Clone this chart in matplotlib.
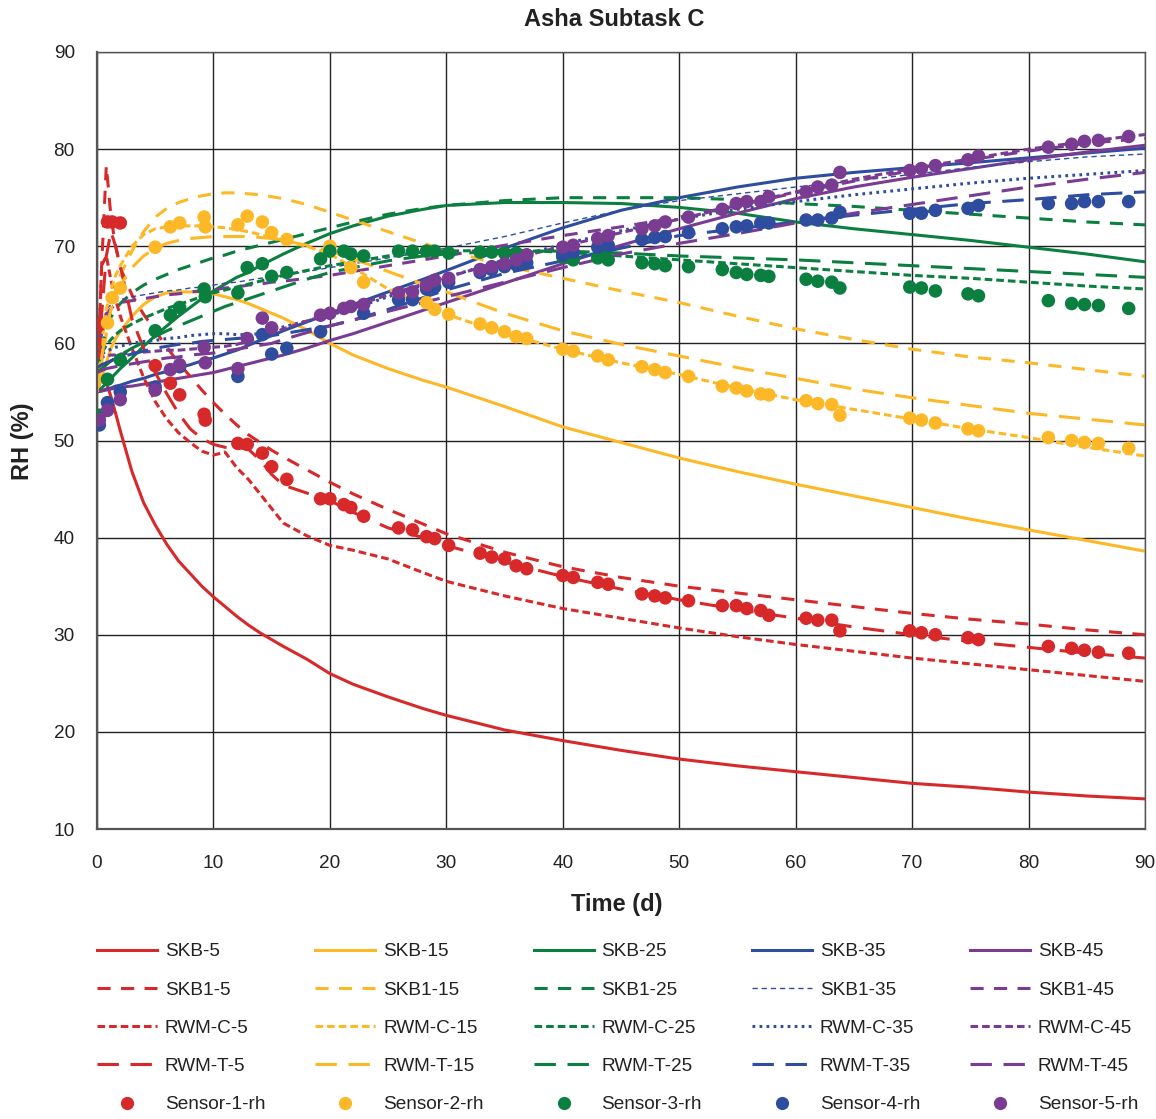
import matplotlib
matplotlib.use("Agg")
import numpy as np
import matplotlib.pyplot as plt
from matplotlib.lines import Line2D

plt.rcParams['font.family'] = ['Liberation Sans', 'DejaVu Sans']

# model output time grid (days)
t_model = [0, 0.4, 0.8, 1.2, 1.6, 2, 3, 4, 5, 6, 7, 8, 9, 10, 11, 12, 13, 14, 15, 16,
           18, 20, 22, 25, 28, 30, 35, 40, 45, 50, 55, 60, 65, 70, 75, 80, 85, 90]

skb_5 = [55, 56.5, 56, 54.5, 52.8, 51, 46.8, 43.6, 41.3, 39.3, 37.6, 36.3, 35.0, 33.9, 32.9, 31.9, 31.0, 30.2, 29.5, 28.8,
         27.5, 26.0, 24.9, 23.6, 22.4, 21.7, 20.2, 19.1, 18.1, 17.2, 16.5, 15.9, 15.3, 14.7, 14.3, 13.8, 13.4, 13.1]
skb1_5 = [55, 68, 78.3, 73, 70, 67.8, 65, 63, 61.3, 59.6, 58, 56.6, 55.2, 53.9, 52.7, 51.6, 50.6, 49.8, 49.0, 48.3,
          47.0, 45.7, 44.5, 42.9, 41.4, 40.4, 38.5, 37.0, 35.9, 35.0, 34.3, 33.6, 32.9, 32.2, 31.6, 31.1, 30.5, 30.0]
rwm_c_5 = [55, 68, 69, 66.5, 64.5, 62.8, 59.5, 56.5, 54.0, 52.2, 50.8, 49.8, 48.9, 48.5, 48.8, 47.2, 46.0, 44.5, 43.0, 41.5,
           40.2, 39.2, 38.7, 37.8, 36.4, 35.5, 34.0, 32.7, 31.7, 30.7, 29.8, 29.0, 28.3, 27.6, 27.0, 26.4, 25.8, 25.2]
rwm_t_5 = [55, 63, 69, 71.5, 70, 68, 62.5, 59.5, 57.0, 54.8, 52.8, 51.2, 50.2, 49.6, 49.3, 49.3, 49.1, 48.0, 46.5, 45.4,
           44.6, 43.8, 42.6, 41.0, 40.0, 39.2, 37.5, 36.0, 34.7, 33.6, 32.6, 31.7, 30.8, 30.0, 29.3, 28.7, 28.1, 27.6]

skb_15 = [55, 56.5, 58, 59.5, 60.5, 61.2, 62.8, 64.0, 64.8, 65.2, 65.3, 65.3, 65.3, 65.1, 64.8, 64.5, 64.1, 63.6, 63.1, 62.6,
          61.4, 60.0, 58.8, 57.4, 56.2, 55.5, 53.5, 51.4, 49.8, 48.2, 46.8, 45.5, 44.3, 43.1, 41.9, 40.8, 39.7, 38.6]
skb1_15 = [55, 58, 61, 63.5, 65.5, 67, 69.5, 71.5, 73.0, 73.9, 74.5, 74.9, 75.2, 75.4, 75.5, 75.5, 75.4, 75.3, 75.1, 74.9,
           74.3, 73.5, 72.7, 71.5, 70.3, 69.6, 68.0, 66.7, 65.4, 64.2, 62.8, 61.5, 60.4, 59.4, 58.6, 58.0, 57.3, 56.6]
rwm_c_15 = [55, 60, 63.5, 65.5, 67, 68, 70, 71.2, 71.8, 72.0, 72.1, 72.1, 72.1, 72.0, 71.9, 71.7, 71.5, 71.2, 70.9, 70.6,
            70.0, 69.2, 67.8, 65.6, 64.0, 63.0, 61.0, 59.4, 58.0, 56.8, 55.4, 54.2, 53.2, 52.2, 51.2, 50.3, 49.3, 48.4]
rwm_t_15 = [55, 58.5, 61.5, 63.5, 65, 66, 67.8, 69.0, 69.8, 70.3, 70.6, 70.8, 70.9, 71.0, 71.0, 71.0, 71.0, 70.9, 70.8, 70.6,
            70.1, 69.5, 68.7, 67.4, 66.1, 65.3, 63.1, 61.3, 59.9, 58.7, 57.5, 56.4, 55.3, 54.4, 53.6, 52.8, 52.2, 51.6]

skb_25 = [55, 55.4, 55.9, 56.4, 56.9, 57.4, 58.5, 59.7, 60.8, 61.8, 62.8, 63.7, 64.6, 65.4, 66.1, 66.8, 67.3, 68.0, 68.6, 69.2,
          70.3, 71.3, 72.1, 73.1, 73.8, 74.2, 74.5, 74.5, 74.4, 74.0, 73.4, 72.5, 71.8, 71.2, 70.6, 69.9, 69.2, 68.4]
skb1_25 = [57, 59.5, 61.5, 62.7, 63.5, 64.1, 65.2, 66.0, 66.6, 67.1, 67.6, 68.0, 68.4, 68.8, 69.1, 69.5, 69.8, 70.1, 70.4, 70.7,
           71.3, 71.9, 72.5, 73.3, 73.9, 74.2, 74.7, 75.0, 75.0, 75.0, 74.8, 74.4, 74.1, 73.7, 73.3, 72.9, 72.5, 72.2]
rwm_c_25 = [58, 59, 59.8, 60.4, 60.9, 61.3, 62.0, 62.6, 63.1, 63.6, 64.0, 64.4, 64.8, 65.2, 65.5, 65.8, 66.1, 66.4, 66.7, 67.0,
            67.5, 68.0, 68.4, 69.0, 69.4, 69.5, 69.6, 69.4, 69.0, 68.6, 68.2, 67.8, 67.4, 67.0, 66.7, 66.3, 65.9, 65.6]
rwm_t_25 = [57, 57.4, 57.8, 58.2, 58.5, 58.8, 59.5, 60.1, 60.7, 61.3, 61.8, 62.3, 62.8, 63.3, 63.8, 64.2, 64.6, 65.0, 65.4, 65.8,
            66.6, 67.3, 67.8, 68.5, 69.0, 69.2, 69.5, 69.5, 69.3, 69.0, 68.8, 68.6, 68.3, 68.0, 67.7, 67.4, 67.1, 66.8]

skb_35 = [55, 55.1, 55.3, 55.4, 55.6, 55.7, 56.1, 56.4, 56.8, 57.1, 57.5, 57.8, 58.2, 58.5, 58.9, 59.3, 59.8, 60.3, 60.8, 61.3,
          62.2, 63.1, 64.0, 65.3, 66.6, 67.5, 69.8, 71.9, 73.7, 75.0, 76.1, 77.0, 77.6, 78.1, 78.6, 79.1, 79.6, 80.1]
skb1_35 = [58, 61.5, 63.5, 64.0, 64.3, 64.5, 64.8, 65.0, 65.2, 65.4, 65.5, 65.7, 65.8, 66.0, 66.2, 66.3, 66.5, 66.7, 66.8, 67.0,
           67.4, 67.8, 68.2, 68.8, 69.4, 69.8, 71.0, 72.4, 73.7, 74.7, 75.4, 76.1, 76.7, 77.4, 78.1, 78.7, 79.2, 79.5]
rwm_c_35 = [58.5, 58.9, 59.2, 59.4, 59.6, 59.7, 60.0, 60.2, 60.3, 60.5, 60.6, 60.8, 60.9, 61.0, 61.0, 60.9, 60.9, 61.0, 61.3, 61.7,
            62.3, 62.9, 63.6, 64.8, 66.0, 66.8, 68.6, 70.2, 71.6, 72.8, 73.8, 74.6, 75.3, 75.9, 76.5, 77.0, 77.4, 77.8]
rwm_t_35 = [57.5, 57.8, 58.0, 58.2, 58.4, 58.6, 58.9, 59.2, 59.5, 59.7, 59.9, 60.0, 60.2, 60.3, 60.4, 60.5, 60.6, 60.7, 60.8, 61.0,
            61.4, 61.8, 62.4, 63.5, 64.7, 65.5, 67.2, 68.5, 69.8, 71.1, 71.8, 72.5, 73.2, 73.8, 74.4, 74.8, 75.3, 75.6]

skb_45 = [55, 55.1, 55.2, 55.3, 55.4, 55.5, 55.6, 55.8, 56.0, 56.2, 56.4, 56.6, 56.8, 57.0, 57.3, 57.6, 57.9, 58.2, 58.5, 58.8,
          59.5, 60.3, 61.0, 62.2, 63.4, 64.2, 66.2, 68.2, 70.1, 71.8, 73.4, 74.9, 76.1, 77.1, 78.0, 78.9, 79.7, 80.4]
skb1_45 = [58, 61, 63, 63.6, 64.0, 64.2, 64.4, 64.6, 64.8, 65.0, 65.1, 65.3, 65.4, 65.5, 65.7, 65.8, 66.0, 66.1, 66.3, 66.4,
           66.7, 67.0, 67.4, 68.0, 68.6, 69.0, 70.1, 71.1, 72.0, 73.0, 74.2, 75.5, 76.7, 77.8, 78.9, 79.8, 80.6, 81.1]
rwm_c_45 = [58.5, 58.6, 58.7, 58.8, 58.8, 58.9, 59.0, 59.1, 59.2, 59.3, 59.3, 59.4, 59.5, 59.6, 59.7, 59.9, 60.2, 60.6, 61.0, 61.5,
            62.3, 63.0, 63.8, 65.0, 66.1, 66.8, 68.5, 70.0, 71.4, 72.8, 74.2, 75.6, 76.9, 78.0, 79.0, 80.0, 80.8, 81.5]
rwm_t_45 = [57, 57.2, 57.4, 57.5, 57.6, 57.7, 57.9, 58.1, 58.3, 58.5, 58.6, 58.8, 58.9, 59.0, 59.2, 59.4, 59.6, 59.8, 60.0, 60.4,
            61.1, 61.8, 62.4, 63.3, 64.2, 64.8, 66.3, 67.8, 69.2, 70.3, 71.3, 72.4, 73.4, 74.3, 75.2, 76.1, 76.9, 77.6]

# sensor readings (days, RH %); nan = no reading logged
nan = np.nan
t_sensor = [0.2, 0.9, 1.3, 2.0, 5.0, 6.3, 7.1, 9.2, 9.3, 12.1, 12.9, 14.2, 15.0, 16.3, 19.2, 20.0, 21.2, 21.8, 22.9,
            25.9, 27.1, 28.3, 29.0, 30.2, 32.9, 33.9, 35.0, 36.0, 36.9, 40.0, 40.9, 43.0, 43.9, 46.8, 47.9, 48.8,
            50.8, 53.7, 54.9, 55.8, 57.0, 57.7, 60.9, 61.9, 63.1, 63.8, 69.8, 70.8, 72.0, 74.8, 75.7, 81.7, 83.7,
            84.8, 86.0, 88.6]
sensor_1 = [61.9, 72.5, 72.5, 72.4, 57.7, 55.9, 54.7, 52.7, 52.1, 49.7, 49.6, 48.7, 47.3, 46.0, 44.0, 44.0, 43.4, 43.1, 42.2,
            41.0, 40.8, 40.1, 39.9, 39.2, 38.4, 38.0, 37.8, 37.1, 36.8, 36.1, 35.9, 35.4, 35.2, 34.2, 34.0, 33.8,
            33.5, 33.0, 33.0, 32.7, 32.5, 32.0, 31.7, 31.5, 31.5, 30.4, 30.4, 30.2, 30.0, 29.7, 29.5, 28.8, 28.6,
            28.4, 28.2, 28.1]
sensor_2 = [nan, 62.1, 64.7, 65.7, 69.9, 72.0, 72.4, 73.0, 72.0, 72.2, 73.1, 72.5, 71.4, 70.7, nan, 70.0, nan, 67.8, 66.3,
            nan, nan, 64.2, 63.5, 63.0, 62.0, 61.6, 61.2, 60.7, 60.5, 59.4, 59.2, 58.7, 58.3, 57.6, 57.3, 57.0,
            56.6, 55.6, 55.4, 55.1, 54.8, 54.7, 54.1, 53.8, 53.7, 52.6, 52.3, 52.1, 51.8, 51.2, 51.0, 50.3, 50.0,
            49.8, 49.7, 49.2]
sensor_3 = [52.6, 56.3, nan, 58.3, 61.3, 62.9, 63.7, 65.6, 64.8, 65.2, 67.8, 68.2, 66.9, 67.3, 68.7, 69.5, 69.5, 69.2, 69.0,
            69.5, 69.5, 69.5, 69.5, 69.3, 69.4, 69.4, 69.3, 69.3, 69.1, 68.9, 68.6, 68.8, 68.6, 68.3, 68.2, 68.0,
            67.9, 67.6, 67.3, 67.1, 67.0, 66.9, 66.6, 66.4, 66.3, 65.7, 65.8, 65.7, 65.4, 65.1, 64.9, 64.4, 64.1,
            64.0, 63.9, 63.6]
sensor_4 = [51.6, 53.9, nan, 55.0, 55.5, nan, 57.6, nan, nan, 56.6, nan, 60.9, 58.9, 59.5, 61.2, nan, nan, nan, 63.1,
            64.5, 64.5, 65.6, 65.8, 66.3, 67.3, 67.6, 67.9, 68.1, 68.3, 69.1, 69.4, 69.9, 70.1, 70.7, 70.9, 71.0,
            71.4, 71.8, 72.0, 72.1, 72.4, 72.4, 72.7, 72.7, 72.9, 73.5, 73.4, 73.4, 73.7, 73.9, 74.2, 74.4, 74.4,
            74.6, 74.6, 74.6]
sensor_5 = [52.1, 53.1, nan, 54.2, 55.2, 57.3, 57.8, 59.6, 58.0, 57.4, 60.5, 62.6, 61.6, nan, 62.9, 63.1, 63.6, 63.8, 64.0,
            65.2, 65.3, 66.0, 66.5, 66.7, 67.6, 67.9, 68.2, 68.6, 69.1, 69.9, 70.1, 70.8, 71.1, 71.8, 72.1, 72.5,
            73.0, 73.8, 74.4, 74.6, 74.6, 75.1, 75.6, 76.1, 76.3, 77.6, 77.8, 78.0, 78.3, 78.9, 79.3, 80.2, 80.5,
            80.8, 80.9, 81.3]

red = '#d7282a'
yellow = '#fdb827'
green = '#0b7f3f'
blue = '#2e4d9f'
purple = '#7a3b92'

# line styles: (linewidth, linestyle)
solid = (2.2, '-')
dashed = (2.2, (0, (4.3, 3.4)))
short = (2.2, (0, (2.5, 1.3)))
longd = (2.2, (0, (7.0, 3.8)))
thin = (1.0, (0, (3.8, 2.8)))
dotted = (2.2, (0, (0.9, 1.4)))

series = [
    ('SKB-5', skb_5, red, solid), ('SKB-15', skb_15, yellow, solid), ('SKB-25', skb_25, green, solid),
    ('SKB-35', skb_35, blue, solid), ('SKB-45', skb_45, purple, solid),
    ('SKB1-5', skb1_5, red, dashed), ('SKB1-15', skb1_15, yellow, dashed), ('SKB1-25', skb1_25, green, dashed),
    ('SKB1-35', skb1_35, blue, thin), ('SKB1-45', skb1_45, purple, dashed),
    ('RWM-C-5', rwm_c_5, red, short), ('RWM-C-15', rwm_c_15, yellow, short), ('RWM-C-25', rwm_c_25, green, short),
    ('RWM-C-35', rwm_c_35, blue, dotted), ('RWM-C-45', rwm_c_45, purple, short),
    ('RWM-T-5', rwm_t_5, red, longd), ('RWM-T-15', rwm_t_15, yellow, longd), ('RWM-T-25', rwm_t_25, green, longd),
    ('RWM-T-35', rwm_t_35, blue, longd), ('RWM-T-45', rwm_t_45, purple, longd),
]
sensors = [('Sensor-1-rh', sensor_1, red), ('Sensor-2-rh', sensor_2, yellow), ('Sensor-3-rh', sensor_3, green),
           ('Sensor-4-rh', sensor_4, blue), ('Sensor-5-rh', sensor_5, purple)]

W, H = 1156, 1119
fig = plt.figure(figsize=(W / 100, H / 100), dpi=100)
ax = fig.add_axes([97 / W, 1 - 829 / H, (1145 - 97) / W, (829 - 52) / H])

handles = {}
for name, vals, col, (lw, ls) in series:
    ln, = ax.plot(t_model, vals, color=col, lw=lw, linestyle=ls, label=name)
    handles[name] = ln
for name, vals, col in sensors:
    ax.scatter(t_sensor, vals, s=95, color=col, edgecolors='none', zorder=3)
    handles[name] = Line2D([], [], marker='o', linestyle='none', markersize=9.5,
                           markerfacecolor=col, markeredgecolor='none')

ax.set_xlim(0, 90)
ax.set_ylim(10, 90)
ax.set_xticks(range(0, 91, 10))
ax.set_yticks(range(10, 91, 10))
ax.grid(True, color='#222222', lw=1.0)
ax.set_axisbelow(True)
ax.tick_params(length=0, labelsize=13.7, colors='#222222')
ax.tick_params(axis='y', pad=16)
ax.tick_params(axis='x', pad=19)
for sp in ax.spines.values():
    sp.set_color('#555555')
    sp.set_linewidth(1.0)
ax.spines['left'].set_linewidth(1.6)
ax.spines['bottom'].set_linewidth(1.6)

fig.text(614 / W, 1 - 19 / H, 'Asha Subtask C', ha='center', va='center', fontsize=17,
         fontweight='bold', color='#222222')
fig.text(22 / W, 1 - 441 / H, 'RH (%)', ha='center', va='center', rotation=90, fontsize=17,
         fontweight='bold', color='#222222')
fig.text(617 / W, 1 - 904 / H, 'Time (d)', ha='center', va='center', fontsize=17,
         fontweight='bold', color='#222222')

# legend: one column per temperature group
order = []
for k, s in enumerate(['5', '15', '25', '35', '45']):
    order += ['SKB-' + s, 'SKB1-' + s, 'RWM-C-' + s, 'RWM-T-' + s, 'Sensor-%d-rh' % (k + 1)]
fig.legend([handles[n] for n in order], order, ncol=5, loc='upper left',
           bbox_to_anchor=(97 / W, 1 - 943 / H), frameon=False, fontsize=13.7,
           handlelength=3.15, handletextpad=0.42, columnspacing=2.62, labelspacing=1.1,
           borderpad=0, borderaxespad=0, labelcolor='#222222')

fig.savefig('out.png', dpi=100)
